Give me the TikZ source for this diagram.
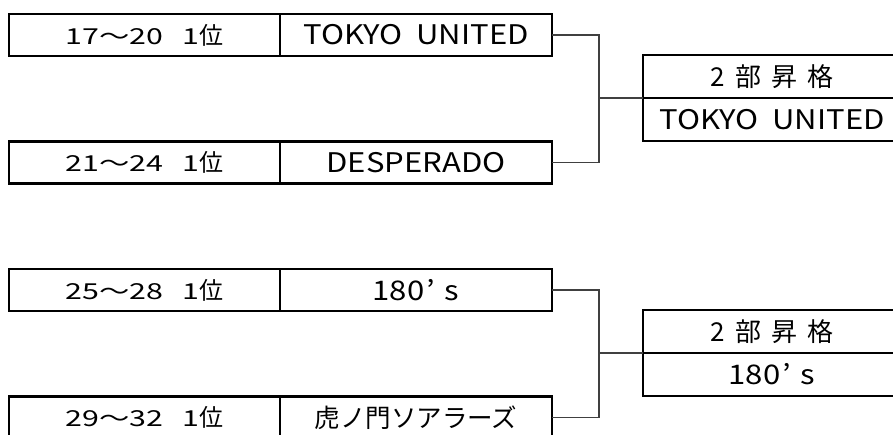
\documentclass[tikz,border=0pt]{standalone}
\usepackage{fontspec}
\usetikzlibrary{positioning}
\newfontfamily\jpfont{Noto Sans CJK JP}
\newfontfamily\rankfont[FakeStretch=1.38]{Noto Sans CJK JP}
\newfontfamily\teamfont[FakeStretch=1.15]{Noto Sans CJK JP}

\newcommand\rank[1]{{\rankfont\fontsize{22}{22}\selectfont #1\hspace{19pt}1}{\jpfont\fontsize{24}{24}\selectfont 位}}
\newcommand\team[1]{{\teamfont\fontsize{27}{27}\selectfont #1}}
\newcommand\jteam[1]{{\jpfont\fontsize{25.5}{25.5}\selectfont #1}}
\newcommand\promo{{\jpfont\fontsize{26}{26}\selectfont 2\hspace{10pt}部\hspace{10pt}昇\hspace{10pt}格}}

\tikzset{
  cell/.style={draw, line width=2.8pt, inner sep=0pt, outer sep=0pt,
    minimum height=42},
  rankcell/.style={cell, minimum width=271},
  teamcell/.style={cell, minimum width=272},
  wincell/.style={cell, minimum width=258, minimum height=43},
  link/.style={line width=1.3pt, draw=black!75}
}

% #1 tag, #2/#3 upper rank/team, #4/#5 lower rank/team, #6 winner
\newcommand\bracketblock[6]{
  \node[rankcell] (ra#1) at (144.5,35) {#2};
  \node[teamcell, right=0pt of ra#1] (ta#1) {#3};
  \node[rankcell] (rb#1) at (144.5,162.5) {#4};
  \node[teamcell, right=0pt of rb#1] (tb#1) {#5};
  \node[wincell] (wa#1) at (772,76.5) {\promo};
  \node[wincell, below=0pt of wa#1] (wb#1) {#6};
  \coordinate (j#1) at (599,98);
  \draw[link] (ta#1.east) -| (j#1) |- (tb#1.east);
  \draw[link] (j#1) -- (wa#1.south west);
}

\begin{document}
\begin{tikzpicture}[x=1pt,y=-1pt]
  \clip (0,0) rectangle (893,434);
  \fill[white] (0,0) rectangle (893,434);
  \begin{scope}[shift={(0,0)}]
    \bracketblock{1}{\rank{17～20}}{\team{TOKYO\ \ UNITED}}{\rank{21～24}}{\team{DESPERADO}}{\team{TOKYO\ \ UNITED}}
  \end{scope}
  \begin{scope}[shift={(0,255)}]
    \bracketblock{2}{\rank{25～28}}{\team{180\hspace{2pt}’\hspace{10pt}s}}{\rank{29～32}}{\jteam{虎ノ門ソアラーズ}}{\team{180\hspace{2pt}’\hspace{10pt}s}}
  \end{scope}
\end{tikzpicture}
\end{document}
